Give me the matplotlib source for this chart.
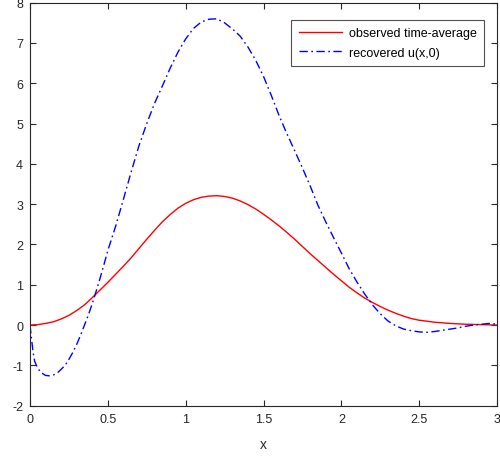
import matplotlib
matplotlib.use("Agg")
import matplotlib.pyplot as plt

plt.rcParams['font.family'] = ['Liberation Sans', 'DejaVu Sans']
plt.rcParams['axes.unicode_minus'] = False

# observed time-average (red)
x_obs = [0.0, 0.05, 0.1, 0.15, 0.2, 0.25, 0.3, 0.35, 0.4, 0.45, 0.5, 0.55,
         0.6, 0.65, 0.7, 0.75, 0.8, 0.85, 0.9, 0.95, 1.0, 1.05, 1.1, 1.15,
         1.2, 1.25, 1.3, 1.35, 1.4, 1.45, 1.5, 1.55, 1.6, 1.65, 1.7, 1.75,
         1.8, 1.85, 1.9, 1.95, 2.0, 2.05, 2.1, 2.15, 2.2, 2.25, 2.3, 2.35,
         2.4, 2.45, 2.5, 2.6, 2.7, 2.8, 2.9, 3.0]
y_obs = [0.0, 0.01, 0.04, 0.08, 0.15, 0.24, 0.36, 0.5, 0.68, 0.87, 1.06, 1.26,
         1.46, 1.67, 1.9, 2.13, 2.35, 2.56, 2.74, 2.9, 3.02, 3.11, 3.17, 3.2,
         3.21, 3.19, 3.15, 3.08, 2.99, 2.88, 2.75, 2.61, 2.46, 2.3, 2.13, 1.95,
         1.77, 1.6, 1.43, 1.26, 1.1, 0.94, 0.8, 0.67, 0.56, 0.46, 0.37, 0.29,
         0.22, 0.16, 0.12, 0.07, 0.04, 0.02, 0.01, 0.0]

# recovered u(x,0) (blue)
x_rec = [0.0, 0.01, 0.02, 0.03, 0.05, 0.075, 0.1, 0.125, 0.15, 0.175, 0.2,
         0.225, 0.25, 0.275, 0.3, 0.325, 0.35, 0.375, 0.4, 0.425, 0.45, 0.475,
         0.5, 0.55, 0.6, 0.65, 0.7, 0.75, 0.8, 0.85, 0.9, 0.95, 1.0, 1.05,
         1.1, 1.15, 1.2, 1.25, 1.3, 1.35, 1.4, 1.45, 1.5, 1.55, 1.6, 1.65,
         1.7, 1.75, 1.8, 1.85, 1.9, 1.95, 2.0, 2.05, 2.1, 2.15, 2.2, 2.25,
         2.3, 2.35, 2.4, 2.45, 2.5, 2.55, 2.6, 2.65, 2.7, 2.75, 2.8, 2.85,
         2.9, 2.95, 3.0]
y_rec = [0.0, -0.35, -0.68, -0.9, -1.08, -1.19, -1.25, -1.26, -1.24, -1.19, -1.1,
         -1.0, -0.85, -0.68, -0.48, -0.25, 0.0, 0.25, 0.53, 0.84, 1.16, 1.5,
         1.85, 2.45, 3.12, 3.8, 4.45, 5.0, 5.5, 5.93, 6.37, 6.77, 7.1, 7.36,
         7.52, 7.59, 7.6, 7.5, 7.35, 7.17, 6.9, 6.57, 6.17, 5.7, 5.2, 4.75,
         4.33, 3.9, 3.45, 2.97, 2.56, 2.17, 1.79, 1.4, 1.07, 0.77, 0.5, 0.28,
         0.1, -0.02, -0.1, -0.14, -0.17, -0.18, -0.16, -0.13, -0.1, -0.07, -0.03, 0.0,
         0.02, 0.04, 0.02]

x_ticks = [0, 0.5, 1, 1.5, 2, 2.5, 3]
x_ticklabels = ['0', '0.5', '1', '1.5', '2', '2.5', '3']
y_ticks = [-2, -1, 0, 1, 2, 3, 4, 5, 6, 7, 8]

fig = plt.figure(figsize=(5, 4.6), dpi=100)
ax = fig.add_axes([0.06, 0.116, 0.934, 0.876])

ax.plot(x_obs, y_obs, color=(1, 0, 0), lw=1.0, label='observed time-average')
ax.plot(x_rec, y_rec, color=(0, 0, 1), lw=1.0, linestyle=(0, (6, 2.5, 1.2, 2.5)),
        label='recovered u(x,0)')

ax.set_xlim(0, 3)
ax.set_ylim(-2, 8)
ax.set_xticks(x_ticks)
ax.set_xticklabels(x_ticklabels)
ax.set_yticks(y_ticks)

axcol = '#262626'
for s in ax.spines.values():
    s.set_color(axcol)
    s.set_linewidth(0.8)
ax.tick_params(direction='in', length=4, width=0.8, top=True, right=True,
               colors=axcol, labelsize=9, pad=5)
ax.set_xlabel('x', fontsize=10, color=axcol, labelpad=9)

leg = ax.legend(loc='upper right', bbox_to_anchor=(0.972, 0.958), fontsize=9,
                frameon=True, fancybox=False, handlelength=3.5, borderpad=0.6,
                labelspacing=0.6, handletextpad=0.5, borderaxespad=0)
leg.get_frame().set_edgecolor(axcol)
leg.get_frame().set_linewidth(0.8)

fig.savefig('out.png', dpi=100)
